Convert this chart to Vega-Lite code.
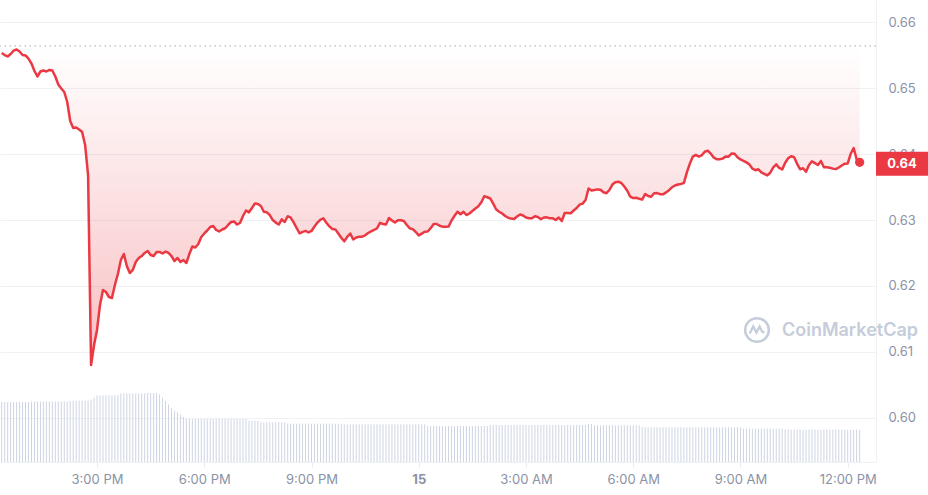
{
"$schema":"https://vega.github.io/schema/vega-lite/v6.json",
"width":876,"height":462,
"autosize":{"type":"none"},
"padding":{"left":0,"top":0,"right":52,"bottom":33},
"config":{"view":{"stroke":null},"font":"Inter"},
"datasets":{
"main":[
{"t":"2024-03-14T12:20Z","p":0.65536,"v":60},{"t":"2024-03-14T12:25Z","p":0.65505,"v":60},{"t":"2024-03-14T12:30Z","p":0.65483,"v":60},{"t":"2024-03-14T12:35Z","p":0.65521,"v":60},{"t":"2024-03-14T12:40Z","p":0.65571,"v":60},{"t":"2024-03-14T12:45Z","p":0.65589,"v":60},{"t":"2024-03-14T12:50Z","p":0.65558,"v":60},{"t":"2024-03-14T12:55Z","p":0.65505,"v":60},
{"t":"2024-03-14T13:00Z","p":0.65498,"v":60},{"t":"2024-03-14T13:05Z","p":0.65452,"v":60},{"t":"2024-03-14T13:10Z","p":0.65376,"v":60.5},{"t":"2024-03-14T13:15Z","p":0.65263,"v":60.5},{"t":"2024-03-14T13:20Z","p":0.65179,"v":60.5},{"t":"2024-03-14T13:25Z","p":0.65255,"v":60.5},{"t":"2024-03-14T13:30Z","p":0.6527,"v":60.5},{"t":"2024-03-14T13:35Z","p":0.65255,"v":60.5},{"t":"2024-03-14T13:40Z","p":0.65278,"v":60.5},{"t":"2024-03-14T13:45Z","p":0.6527,"v":60.5},{"t":"2024-03-14T13:50Z","p":0.65179,"v":60.5},{"t":"2024-03-14T13:55Z","p":0.65058,"v":60.5},
{"t":"2024-03-14T14:00Z","p":0.64997,"v":60.5},{"t":"2024-03-14T14:05Z","p":0.64944,"v":60.5},{"t":"2024-03-14T14:10Z","p":0.64792,"v":60.5},{"t":"2024-03-14T14:15Z","p":0.64504,"v":61},{"t":"2024-03-14T14:20Z","p":0.64398,"v":61.3},{"t":"2024-03-14T14:25Z","p":0.64405,"v":61.3},{"t":"2024-03-14T14:30Z","p":0.64375,"v":61.3},{"t":"2024-03-14T14:35Z","p":0.64337,"v":61.3},{"t":"2024-03-14T14:40Z","p":0.6414,"v":61.3},{"t":"2024-03-14T14:45Z","p":0.63684,"v":61.3},{"t":"2024-03-14T14:50Z","p":0.60801,"v":62.5},{"t":"2024-03-14T14:55Z","p":0.61105,"v":64.5},
{"t":"2024-03-14T15:00Z","p":0.61332,"v":66.7},{"t":"2024-03-14T15:05Z","p":0.61712,"v":66.7},{"t":"2024-03-14T15:10Z","p":0.61939,"v":66.7},{"t":"2024-03-14T15:15Z","p":0.61909,"v":66.7},{"t":"2024-03-14T15:20Z","p":0.61833,"v":66.7},{"t":"2024-03-14T15:25Z","p":0.61818,"v":66.7},{"t":"2024-03-14T15:30Z","p":0.62015,"v":66.7},{"t":"2024-03-14T15:35Z","p":0.62182,"v":66.7},{"t":"2024-03-14T15:40Z","p":0.62394,"v":68.7},{"t":"2024-03-14T15:45Z","p":0.62486,"v":68.7},{"t":"2024-03-14T15:50Z","p":0.62303,"v":68.7},{"t":"2024-03-14T15:55Z","p":0.62197,"v":68.7},
{"t":"2024-03-14T16:00Z","p":0.62243,"v":68.7},{"t":"2024-03-14T16:05Z","p":0.62364,"v":68.7},{"t":"2024-03-14T16:10Z","p":0.62425,"v":68.7},{"t":"2024-03-14T16:15Z","p":0.62455,"v":68.7},{"t":"2024-03-14T16:20Z","p":0.62501,"v":68.7},{"t":"2024-03-14T16:25Z","p":0.62531,"v":69},{"t":"2024-03-14T16:30Z","p":0.6247,"v":69},{"t":"2024-03-14T16:35Z","p":0.62455,"v":69},{"t":"2024-03-14T16:40Z","p":0.62516,"v":69},{"t":"2024-03-14T16:45Z","p":0.62516,"v":67.5},{"t":"2024-03-14T16:50Z","p":0.62493,"v":64},{"t":"2024-03-14T16:55Z","p":0.62523,"v":61},
{"t":"2024-03-14T17:00Z","p":0.62501,"v":57.5},{"t":"2024-03-14T17:05Z","p":0.62455,"v":54},{"t":"2024-03-14T17:10Z","p":0.62379,"v":51.5},{"t":"2024-03-14T17:15Z","p":0.62425,"v":49.7},{"t":"2024-03-14T17:20Z","p":0.62364,"v":47.5},{"t":"2024-03-14T17:25Z","p":0.62394,"v":45},{"t":"2024-03-14T17:30Z","p":0.62349,"v":43},{"t":"2024-03-14T17:35Z","p":0.62486,"v":43},{"t":"2024-03-14T17:40Z","p":0.62599,"v":43},{"t":"2024-03-14T17:45Z","p":0.62584,"v":43},{"t":"2024-03-14T17:50Z","p":0.62637,"v":43},{"t":"2024-03-14T17:55Z","p":0.62744,"v":43},
{"t":"2024-03-14T18:00Z","p":0.62797,"v":43},{"t":"2024-03-14T18:05Z","p":0.62842,"v":43},{"t":"2024-03-14T18:10Z","p":0.62895,"v":43},{"t":"2024-03-14T18:15Z","p":0.6291,"v":43},{"t":"2024-03-14T18:20Z","p":0.6285,"v":43},{"t":"2024-03-14T18:25Z","p":0.62827,"v":43},{"t":"2024-03-14T18:30Z","p":0.62857,"v":43},{"t":"2024-03-14T18:35Z","p":0.62876,"v":43},{"t":"2024-03-14T18:40Z","p":0.62926,"v":43},{"t":"2024-03-14T18:45Z","p":0.62971,"v":43},{"t":"2024-03-14T18:50Z","p":0.62979,"v":43},{"t":"2024-03-14T18:55Z","p":0.62933,"v":43},
{"t":"2024-03-14T19:00Z","p":0.62956,"v":43},{"t":"2024-03-14T19:05Z","p":0.63062,"v":43},{"t":"2024-03-14T19:10Z","p":0.63146,"v":43},{"t":"2024-03-14T19:15Z","p":0.63118,"v":41.3},{"t":"2024-03-14T19:20Z","p":0.63184,"v":41.3},{"t":"2024-03-14T19:25Z","p":0.63252,"v":41.3},{"t":"2024-03-14T19:30Z","p":0.63244,"v":41.3},{"t":"2024-03-14T19:35Z","p":0.63214,"v":39.7},{"t":"2024-03-14T19:40Z","p":0.63127,"v":39.7},{"t":"2024-03-14T19:45Z","p":0.63118,"v":39.7},{"t":"2024-03-14T19:50Z","p":0.63077,"v":39.7},{"t":"2024-03-14T19:55Z","p":0.63001,"v":39.7},
{"t":"2024-03-14T20:00Z","p":0.62961,"v":39.7},{"t":"2024-03-14T20:05Z","p":0.62933,"v":39.7},{"t":"2024-03-14T20:10Z","p":0.63012,"v":39.7},{"t":"2024-03-14T20:15Z","p":0.62971,"v":39.7},{"t":"2024-03-14T20:20Z","p":0.63059,"v":38.3},{"t":"2024-03-14T20:25Z","p":0.63039,"v":38.3},{"t":"2024-03-14T20:30Z","p":0.62964,"v":38.3},{"t":"2024-03-14T20:35Z","p":0.6288,"v":38.3},{"t":"2024-03-14T20:40Z","p":0.628,"v":38.3},{"t":"2024-03-14T20:45Z","p":0.62822,"v":38.3},{"t":"2024-03-14T20:50Z","p":0.62836,"v":38.3},{"t":"2024-03-14T20:55Z","p":0.62812,"v":38.3},
{"t":"2024-03-14T21:00Z","p":0.62835,"v":38.3},{"t":"2024-03-14T21:05Z","p":0.62903,"v":38.3},{"t":"2024-03-14T21:10Z","p":0.62962,"v":38.3},{"t":"2024-03-14T21:15Z","p":0.63008,"v":38.3},{"t":"2024-03-14T21:20Z","p":0.63026,"v":38.3},{"t":"2024-03-14T21:25Z","p":0.62961,"v":38.3},{"t":"2024-03-14T21:30Z","p":0.62904,"v":38.3},{"t":"2024-03-14T21:35Z","p":0.62865,"v":38.3},{"t":"2024-03-14T21:40Z","p":0.62859,"v":38.3},{"t":"2024-03-14T21:45Z","p":0.62797,"v":38.3},{"t":"2024-03-14T21:50Z","p":0.62731,"v":38.3},{"t":"2024-03-14T21:55Z","p":0.62678,"v":37.7},
{"t":"2024-03-14T22:00Z","p":0.62747,"v":37.7},{"t":"2024-03-14T22:05Z","p":0.62797,"v":37.7},{"t":"2024-03-14T22:10Z","p":0.62706,"v":37.7},{"t":"2024-03-14T22:15Z","p":0.62736,"v":37.7},{"t":"2024-03-14T22:20Z","p":0.62748,"v":37.7},{"t":"2024-03-14T22:25Z","p":0.62748,"v":37.7},{"t":"2024-03-14T22:30Z","p":0.62769,"v":37.7},{"t":"2024-03-14T22:35Z","p":0.62804,"v":37.7},{"t":"2024-03-14T22:40Z","p":0.6283,"v":37.7},{"t":"2024-03-14T22:45Z","p":0.6285,"v":37.7},{"t":"2024-03-14T22:50Z","p":0.62876,"v":37.7},{"t":"2024-03-14T22:55Z","p":0.62959,"v":37.7},
{"t":"2024-03-14T23:00Z","p":0.62941,"v":37.7},{"t":"2024-03-14T23:05Z","p":0.62933,"v":37.7},{"t":"2024-03-14T23:10Z","p":0.63032,"v":37.7},{"t":"2024-03-14T23:15Z","p":0.62994,"v":37.7},{"t":"2024-03-14T23:20Z","p":0.62965,"v":37.7},{"t":"2024-03-14T23:25Z","p":0.62998,"v":37.7},{"t":"2024-03-14T23:30Z","p":0.62997,"v":37.7},{"t":"2024-03-14T23:35Z","p":0.62986,"v":37.7},{"t":"2024-03-14T23:40Z","p":0.62926,"v":37.7},{"t":"2024-03-14T23:45Z","p":0.62874,"v":37.7},{"t":"2024-03-14T23:50Z","p":0.62862,"v":37.7},{"t":"2024-03-14T23:55Z","p":0.62819,"v":37.7},
{"t":"2024-03-15T00:00Z","p":0.62768,"v":37.7},{"t":"2024-03-15T00:05Z","p":0.62795,"v":37.7},{"t":"2024-03-15T00:10Z","p":0.62824,"v":37.7},{"t":"2024-03-15T00:15Z","p":0.62827,"v":36},{"t":"2024-03-15T00:20Z","p":0.62877,"v":36},{"t":"2024-03-15T00:25Z","p":0.62941,"v":36},{"t":"2024-03-15T00:30Z","p":0.62941,"v":36},{"t":"2024-03-15T00:35Z","p":0.62915,"v":36},{"t":"2024-03-15T00:40Z","p":0.629,"v":36},{"t":"2024-03-15T00:45Z","p":0.629,"v":36},{"t":"2024-03-15T00:50Z","p":0.62901,"v":36},{"t":"2024-03-15T00:55Z","p":0.62994,"v":36},
{"t":"2024-03-15T01:00Z","p":0.63065,"v":36},{"t":"2024-03-15T01:05Z","p":0.63126,"v":36},{"t":"2024-03-15T01:10Z","p":0.63088,"v":36},{"t":"2024-03-15T01:15Z","p":0.63127,"v":36},{"t":"2024-03-15T01:20Z","p":0.63077,"v":36},{"t":"2024-03-15T01:25Z","p":0.631,"v":36},{"t":"2024-03-15T01:30Z","p":0.63138,"v":36},{"t":"2024-03-15T01:35Z","p":0.63176,"v":36},{"t":"2024-03-15T01:40Z","p":0.63209,"v":36},{"t":"2024-03-15T01:45Z","p":0.6327,"v":36},{"t":"2024-03-15T01:50Z","p":0.63363,"v":36},{"t":"2024-03-15T01:55Z","p":0.63347,"v":36},
{"t":"2024-03-15T02:00Z","p":0.63328,"v":37},{"t":"2024-03-15T02:05Z","p":0.63249,"v":37},{"t":"2024-03-15T02:10Z","p":0.63161,"v":37},{"t":"2024-03-15T02:15Z","p":0.63127,"v":37},{"t":"2024-03-15T02:20Z","p":0.631,"v":37},{"t":"2024-03-15T02:25Z","p":0.63062,"v":37},{"t":"2024-03-15T02:30Z","p":0.63036,"v":37},{"t":"2024-03-15T02:35Z","p":0.63023,"v":37},{"t":"2024-03-15T02:40Z","p":0.63017,"v":37},{"t":"2024-03-15T02:45Z","p":0.63055,"v":37},{"t":"2024-03-15T02:50Z","p":0.63086,"v":37},{"t":"2024-03-15T02:55Z","p":0.6307,"v":37},
{"t":"2024-03-15T03:00Z","p":0.63039,"v":37},{"t":"2024-03-15T03:05Z","p":0.63029,"v":37},{"t":"2024-03-15T03:10Z","p":0.63027,"v":37},{"t":"2024-03-15T03:15Z","p":0.63058,"v":37},{"t":"2024-03-15T03:20Z","p":0.63047,"v":37},{"t":"2024-03-15T03:25Z","p":0.63014,"v":37},{"t":"2024-03-15T03:30Z","p":0.63039,"v":37},{"t":"2024-03-15T03:35Z","p":0.63042,"v":37},{"t":"2024-03-15T03:40Z","p":0.63027,"v":37},{"t":"2024-03-15T03:45Z","p":0.63027,"v":37},{"t":"2024-03-15T03:50Z","p":0.63001,"v":37},{"t":"2024-03-15T03:55Z","p":0.63039,"v":37},
{"t":"2024-03-15T04:00Z","p":0.62986,"v":37},{"t":"2024-03-15T04:05Z","p":0.63108,"v":37},{"t":"2024-03-15T04:10Z","p":0.63108,"v":37},{"t":"2024-03-15T04:15Z","p":0.63103,"v":37},{"t":"2024-03-15T04:20Z","p":0.63146,"v":37},{"t":"2024-03-15T04:25Z","p":0.63184,"v":37},{"t":"2024-03-15T04:30Z","p":0.63235,"v":37},{"t":"2024-03-15T04:35Z","p":0.6325,"v":37},{"t":"2024-03-15T04:40Z","p":0.63305,"v":37},{"t":"2024-03-15T04:45Z","p":0.6348,"v":38},{"t":"2024-03-15T04:50Z","p":0.63449,"v":38},{"t":"2024-03-15T04:55Z","p":0.63457,"v":36.7},
{"t":"2024-03-15T05:00Z","p":0.63466,"v":36.7},{"t":"2024-03-15T05:05Z","p":0.6346,"v":36.7},{"t":"2024-03-15T05:10Z","p":0.63423,"v":36.7},{"t":"2024-03-15T05:15Z","p":0.63408,"v":36.7},{"t":"2024-03-15T05:20Z","p":0.63457,"v":36.7},{"t":"2024-03-15T05:25Z","p":0.63539,"v":36.7},{"t":"2024-03-15T05:30Z","p":0.63575,"v":36.7},{"t":"2024-03-15T05:35Z","p":0.63583,"v":36.7},{"t":"2024-03-15T05:40Z","p":0.63563,"v":36.7},{"t":"2024-03-15T05:45Z","p":0.6351,"v":36.7},{"t":"2024-03-15T05:50Z","p":0.63446,"v":36.7},{"t":"2024-03-15T05:55Z","p":0.63355,"v":36.7},
{"t":"2024-03-15T06:00Z","p":0.63334,"v":36.7},{"t":"2024-03-15T06:05Z","p":0.6334,"v":36.7},{"t":"2024-03-15T06:10Z","p":0.63323,"v":36.7},{"t":"2024-03-15T06:15Z","p":0.63311,"v":34.7},{"t":"2024-03-15T06:20Z","p":0.63396,"v":34.7},{"t":"2024-03-15T06:25Z","p":0.63366,"v":34.7},{"t":"2024-03-15T06:30Z","p":0.63354,"v":34.7},{"t":"2024-03-15T06:35Z","p":0.63408,"v":34.7},{"t":"2024-03-15T06:40Z","p":0.6341,"v":34.7},{"t":"2024-03-15T06:45Z","p":0.63393,"v":34.7},{"t":"2024-03-15T06:50Z","p":0.63391,"v":34.7},{"t":"2024-03-15T06:55Z","p":0.6342,"v":34.7},
{"t":"2024-03-15T07:00Z","p":0.63454,"v":34.7},{"t":"2024-03-15T07:05Z","p":0.63498,"v":34.7},{"t":"2024-03-15T07:10Z","p":0.63525,"v":34.7},{"t":"2024-03-15T07:15Z","p":0.6354,"v":34.7},{"t":"2024-03-15T07:20Z","p":0.63549,"v":34.7},{"t":"2024-03-15T07:25Z","p":0.63563,"v":34.7},{"t":"2024-03-15T07:30Z","p":0.63725,"v":34.7},{"t":"2024-03-15T07:35Z","p":0.63857,"v":34.7},{"t":"2024-03-15T07:40Z","p":0.63964,"v":34.7},{"t":"2024-03-15T07:45Z","p":0.63989,"v":34.7},{"t":"2024-03-15T07:50Z","p":0.63964,"v":34.7},{"t":"2024-03-15T07:55Z","p":0.63983,"v":34.7},
{"t":"2024-03-15T08:00Z","p":0.64038,"v":34.7},{"t":"2024-03-15T08:05Z","p":0.64053,"v":34.7},{"t":"2024-03-15T08:10Z","p":0.64009,"v":34.7},{"t":"2024-03-15T08:15Z","p":0.63951,"v":34.7},{"t":"2024-03-15T08:20Z","p":0.63923,"v":34.7},{"t":"2024-03-15T08:25Z","p":0.63923,"v":34.7},{"t":"2024-03-15T08:30Z","p":0.63933,"v":34.7},{"t":"2024-03-15T08:35Z","p":0.63965,"v":34.7},{"t":"2024-03-15T08:40Z","p":0.63962,"v":34.7},{"t":"2024-03-15T08:45Z","p":0.64011,"v":34.7},{"t":"2024-03-15T08:50Z","p":0.64006,"v":34.7},{"t":"2024-03-15T08:55Z","p":0.63954,"v":34.7},
{"t":"2024-03-15T09:00Z","p":0.6392,"v":34.7},{"t":"2024-03-15T09:05Z","p":0.639,"v":33.3},{"t":"2024-03-15T09:10Z","p":0.63876,"v":33.3},{"t":"2024-03-15T09:15Z","p":0.63844,"v":33.3},{"t":"2024-03-15T09:20Z","p":0.63781,"v":33.3},{"t":"2024-03-15T09:25Z","p":0.63757,"v":33.3},{"t":"2024-03-15T09:30Z","p":0.63771,"v":33.3},{"t":"2024-03-15T09:35Z","p":0.63724,"v":33.3},{"t":"2024-03-15T09:40Z","p":0.637,"v":33.3},{"t":"2024-03-15T09:45Z","p":0.63678,"v":33.3},{"t":"2024-03-15T09:50Z","p":0.63719,"v":33.3},{"t":"2024-03-15T09:55Z","p":0.63801,"v":33.3},
{"t":"2024-03-15T10:00Z","p":0.63845,"v":33.3},{"t":"2024-03-15T10:05Z","p":0.63791,"v":33.3},{"t":"2024-03-15T10:10Z","p":0.63768,"v":33.3},{"t":"2024-03-15T10:15Z","p":0.6387,"v":32.3},{"t":"2024-03-15T10:20Z","p":0.63938,"v":32.3},{"t":"2024-03-15T10:25Z","p":0.6397,"v":32.3},{"t":"2024-03-15T10:30Z","p":0.63954,"v":32.3},{"t":"2024-03-15T10:35Z","p":0.63854,"v":32.3},{"t":"2024-03-15T10:40Z","p":0.63772,"v":32.3},{"t":"2024-03-15T10:45Z","p":0.63786,"v":32.3},{"t":"2024-03-15T10:50Z","p":0.63733,"v":32.3},{"t":"2024-03-15T10:55Z","p":0.63836,"v":32.3},
{"t":"2024-03-15T11:00Z","p":0.63892,"v":32.3},{"t":"2024-03-15T11:05Z","p":0.63865,"v":32.3},{"t":"2024-03-15T11:10Z","p":0.63836,"v":32.3},{"t":"2024-03-15T11:15Z","p":0.63898,"v":32.3},{"t":"2024-03-15T11:20Z","p":0.63801,"v":32.3},{"t":"2024-03-15T11:25Z","p":0.63801,"v":32.3},{"t":"2024-03-15T11:30Z","p":0.63795,"v":32.3},{"t":"2024-03-15T11:35Z","p":0.63781,"v":32.3},{"t":"2024-03-15T11:40Z","p":0.63774,"v":32.3},{"t":"2024-03-15T11:45Z","p":0.63798,"v":32.3},{"t":"2024-03-15T11:50Z","p":0.63829,"v":32.3},{"t":"2024-03-15T11:55Z","p":0.63856,"v":32.3},
{"t":"2024-03-15T12:00Z","p":0.63859,"v":32.3},{"t":"2024-03-15T12:05Z","p":0.64006,"v":32.3},{"t":"2024-03-15T12:10Z","p":0.64094,"v":32.3},{"t":"2024-03-15T12:15Z","p":0.6392,"v":32.3},{"t":"2024-03-15T12:20Z","p":0.63877,"v":32.3}
],
"last":[{"t":"2024-03-15T12:20Z","p":0.63877,"label":"0.64"}],
"brand":[{"name":"CoinMarketCap"}]
},
"layer":[
{"data":{"name":"main"},
 "mark":{"type":"rule","color":"#cdd4e3","strokeWidth":1},
 "encoding":{
  "x":{"field":"t","type":"temporal",
   "scale":{"type":"utc","domain":[{"year":2024,"month":3,"date":14,"hours":12,"minutes":17,"seconds":9,"utc":true},{"year":2024,"month":3,"date":15,"hours":12,"minutes":47,"seconds":27,"utc":true}]},
   "axis":{"title":null,"grid":false,
    "values":[{"year":2024,"month":3,"date":14,"hours":15,"utc":true},{"year":2024,"month":3,"date":14,"hours":18,"utc":true},{"year":2024,"month":3,"date":14,"hours":21,"utc":true},{"year":2024,"month":3,"date":15,"hours":0,"utc":true},{"year":2024,"month":3,"date":15,"hours":3,"utc":true},{"year":2024,"month":3,"date":15,"hours":6,"utc":true},{"year":2024,"month":3,"date":15,"hours":9,"utc":true},{"year":2024,"month":3,"date":15,"hours":12,"utc":true}],
    "labelExpr":"utchours(datum.value) == 0 ? utcFormat(datum.value, '%-d') : utcFormat(datum.value, '%-I:%M %p')",
    "labelFontWeight":{"condition":{"test":"utchours(datum.value) == 0","value":"bold"},"value":"normal"},
    "labelFlush":false,"labelFont":"Inter","labelFontSize":13,"labelColor":"#8a93a6","labelPadding":6,
    "domain":true,"domainColor":"#eff2f5","ticks":true,"tickColor":"#e8ebf0","tickSize":5}},
  "y":{"field":"v","type":"quantitative","scale":{"domain":[0,462]},"axis":null},
  "y2":{"datum":0}}},
{"layer":[
 {"data":{"name":"main"},
  "mark":{"type":"area","line":false,"color":{"gradient":"linear","x1":0,"y1":0,"x2":0,"y2":1,"stops":[{"offset":0,"color":"rgba(234,57,67,0)"},{"offset":1,"color":"rgba(234,57,67,0.32)"}]}},
  "encoding":{
   "x":{"field":"t","type":"temporal"},
   "y":{"field":"p","type":"quantitative","scale":{"domain":[0.59329,0.6634],"zero":false,"nice":false},
    "axis":{"orient":"right","title":null,"values":[0.6,0.61,0.62,0.63,0.64,0.65,0.66],"format":".2f",
     "grid":true,"gridColor":"#eff1f4","ticks":false,"domain":true,"domainColor":"#eff2f5",
     "labelPadding":12,"labelFont":"Inter","labelFontSize":13,"labelColor":"#8a93a6"}},
   "y2":{"datum":0.65642}}},
 {"data":{"name":"last"},
  "mark":{"type":"rule","color":"#a3aab8","strokeWidth":1,"strokeDash":[1.5,3.5]},
  "encoding":{"y":{"datum":0.65642}}},
 {"data":{"name":"main"},
  "mark":{"type":"line","color":"#ea3943","strokeWidth":2.5,"strokeJoin":"round"},
  "encoding":{"x":{"field":"t","type":"temporal"},"y":{"field":"p","type":"quantitative"}}},
 {"data":{"name":"last"},
  "mark":{"type":"point","filled":true,"size":85,"color":"#ea3943","opacity":1},
  "encoding":{"x":{"field":"t","type":"temporal"},"y":{"field":"p","type":"quantitative"}}},
 {"data":{"name":"last"},
  "mark":{"type":"rect","color":"#ea3943"},
  "encoding":{
   "x":{"datum":{"year":2024,"month":3,"date":15,"hours":12,"minutes":47,"seconds":27,"utc":true}},
   "x2":{"datum":{"year":2024,"month":3,"date":15,"hours":14,"minutes":14,"seconds":45,"utc":true}},
   "y":{"datum":0.64038},"y2":{"datum":0.63674}}},
 {"data":{"name":"last"},
  "mark":{"type":"text","color":"#ffffff","fontWeight":"bold","fontSize":13,"font":"Inter","align":"center","baseline":"middle"},
  "encoding":{
   "x":{"datum":{"year":2024,"month":3,"date":15,"hours":13,"minutes":31,"seconds":3,"utc":true}},
   "y":{"datum":0.63855},
   "text":{"field":"label"}}},
 {"data":{"name":"brand"},
  "mark":{"type":"text","color":"#c5ccda","fontWeight":600,"fontSize":18,"font":"Inter","align":"left","baseline":"middle"},
  "encoding":{
   "x":{"datum":{"year":2024,"month":3,"date":15,"hours":10,"minutes":9,"seconds":39,"utc":true}},
   "y":{"datum":0.61317},
   "text":{"field":"name"}}},
 {"data":{"name":"brand"},
  "mark":{"type":"point","shape":"circle","filled":false,"size":560,"color":"#c5ccda","strokeWidth":2.5,"opacity":1},
  "encoding":{
   "x":{"datum":{"year":2024,"month":3,"date":15,"hours":9,"minutes":27,"seconds":45,"utc":true}},
   "y":{"datum":0.61332}}},
 {"data":{"name":"brand"},
  "mark":{"type":"point","shape":"M-0.62,0.3 L-0.32,-0.3 L-0.05,0.22 L0.22,-0.3 L0.42,0.12 L0.62,0.22","filled":false,"size":560,"color":"#c5ccda","strokeWidth":2.3,"opacity":1},
  "encoding":{
   "x":{"datum":{"year":2024,"month":3,"date":15,"hours":9,"minutes":27,"seconds":45,"utc":true}},
   "y":{"datum":0.61332}}}
]}
],
"resolve":{"scale":{"y":"independent"}}
}
